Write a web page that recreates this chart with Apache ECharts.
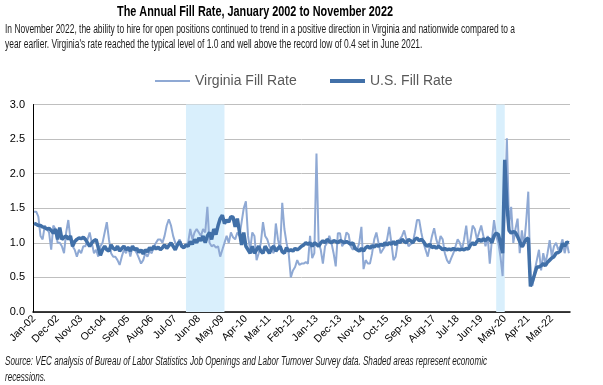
<!DOCTYPE html>
<html>
<head>
<meta charset="utf-8">
<script src="https://cdn.jsdelivr.net/npm/echarts@6/dist/echarts.min.js"></script>
<style>
html,body{margin:0;padding:0;background:#fff;}
#chart{width:603px;height:385px;}
</style>
</head>
<body>
<div id="chart"></div>
<script>
// ---- Data ----
const monthNames = ['Jan','Feb','Mar','Apr','May','Jun','Jul','Aug','Sep','Oct','Nov','Dec'];
const categories = [];
for (let y = 2002; y <= 2022; y++) {
  for (let m = 0; m < 12; m++) {
    if (y === 2022 && m > 10) break;
    categories.push(monthNames[m] + '-' + String(y).slice(2));
  }
}

const virginiaFillRate = [
  1.45,1.45,1.38,1.10,1.05,1.25,1.20,1.15,0.90,1.25,1.20,1.00, // 2002
  1.00,0.95,0.85,1.15,1.33,1.05,0.95,0.90,0.80,0.90,0.85,0.95, // 2003
  0.95,1.05,1.15,1.00,0.85,0.90,0.80,0.95,1.00,1.15,1.30,1.05, // 2004
  0.85,0.80,0.80,0.75,0.68,0.80,0.90,0.85,0.95,0.80,0.95,0.90, // 2005
  0.85,0.78,0.70,0.75,0.85,0.80,0.88,0.85,0.95,1.00,1.05,1.05, // 2006
  1.00,1.10,1.25,1.34,1.25,1.10,1.00,0.95,1.05,0.97,0.93,0.97, // 2007
  1.00,1.20,1.05,1.15,1.20,1.15,1.10,1.20,1.15,1.52,1.00,0.95, // 2008
  0.97,0.93,0.95,0.80,0.90,1.00,1.10,1.00,1.15,1.08,1.05,1.15, // 2009
  1.10,1.30,1.50,1.60,1.10,0.90,1.15,1.10,0.75,0.85,1.00,1.30, // 2010
  1.10,1.05,0.95,0.90,0.85,1.28,1.05,0.90,1.58,1.20,1.00,0.85, // 2011
  0.50,0.60,0.65,0.75,0.68,0.70,0.70,0.72,0.70,1.10,0.78,0.85, // 2012
  2.29,1.00,0.90,0.70,0.95,1.00,1.10,1.00,0.85,0.66,1.14,1.14, // 2013
  0.95,1.00,1.15,1.12,0.95,0.90,0.95,0.90,1.00,1.23,0.62,0.75, // 2014
  0.70,0.70,0.85,1.05,1.15,1.00,0.85,0.90,0.95,1.05,1.23,1.00, // 2015
  0.75,0.80,1.00,1.05,1.10,1.18,1.05,0.95,0.98,1.00,1.15,1.33, // 2016
  1.33,1.15,1.00,0.90,0.80,0.95,1.10,1.21,1.05,0.95,1.10,1.05, // 2017
  0.85,0.75,0.70,0.78,0.85,0.95,1.05,1.00,0.90,1.05,1.25,0.95, // 2018
  1.05,1.25,1.20,1.05,1.15,1.25,1.10,0.95,1.10,0.70,1.05,1.33, // 2019
  1.10,1.00,0.80,0.52,1.40,2.51,1.25,1.52,1.00,1.20,1.35,0.85, // 2020
  1.18,0.95,1.30,1.74,0.50,0.38,0.60,0.75,0.90,0.60,0.85,0.70, // 2021
  0.85,1.04,0.80,0.95,1.00,0.90,0.95,1.05,0.85,1.00,0.85       // 2022
];

const usFillRate = [
  1.28,1.27,1.25,1.25,1.23,1.22,1.20,1.21,1.18,1.14,1.20,1.05, // 2002
  1.22,1.05,1.08,1.10,1.05,1.10,0.95,1.02,1.05,1.07,1.06,1.08, // 2003
  1.05,1.00,0.95,1.00,1.03,1.05,0.93,0.82,0.90,0.95,0.90,0.88, // 2004
  0.97,0.92,0.90,0.95,0.88,0.92,0.95,0.90,0.93,0.88,0.95,0.90, // 2005
  0.92,0.86,0.90,0.84,0.90,0.87,0.93,0.90,0.95,0.91,0.94,0.90, // 2006
  0.93,0.97,0.92,0.96,1.00,0.95,0.90,0.97,1.02,0.95,0.93,0.97, // 2007
  0.95,1.02,0.98,1.05,1.00,1.07,1.03,1.10,1.00,1.10,1.15,1.05, // 2008
  1.20,1.12,1.25,1.35,1.40,1.28,1.33,1.30,1.38,1.37,1.23,1.35, // 2009
  1.16,0.97,1.15,0.95,0.90,0.85,0.95,0.85,0.90,0.95,0.88,0.85, // 2010
  0.95,0.90,0.85,0.92,0.95,0.88,0.92,0.95,0.87,0.85,0.93,0.88, // 2011
  0.90,0.88,0.92,0.90,0.92,0.95,0.97,1.00,0.98,1.00,0.95,1.00, // 2012
  0.98,0.95,1.00,1.03,1.00,1.05,1.02,1.00,1.03,1.02,1.00,1.03, // 2013
  1.02,1.00,1.02,1.00,0.98,1.00,0.92,0.90,0.88,0.92,0.88,0.93, // 2014
  0.95,0.92,0.96,0.94,0.97,0.95,0.98,0.96,1.00,0.97,1.00,0.98, // 2015
  1.02,0.97,1.03,1.00,1.05,1.02,1.00,1.05,1.03,1.00,1.05,1.07, // 2016
  1.03,1.05,1.02,0.97,0.95,0.98,0.93,0.95,0.92,0.95,0.93,0.90, // 2017
  0.92,0.90,0.91,0.90,0.92,0.90,0.91,0.90,0.91,0.90,0.92,0.91, // 2018
  0.97,1.00,0.97,1.02,1.05,1.02,1.06,1.03,1.07,1.05,1.00,1.10, // 2019
  1.14,1.12,1.00,0.85,2.20,1.55,1.18,1.14,1.16,1.15,1.09,1.02, // 2020
  0.94,1.00,1.05,1.07,0.37,0.45,0.55,0.65,0.65,0.67,0.70,0.67, // 2021
  0.72,0.75,0.78,0.80,0.85,0.86,0.88,0.99,0.95,1.01,1.00       // 2022
];

const recessions = [['Dec-07', 'Jun-09'], ['Jan-20', 'May-20']];
const seriesNames = ['Virginia Fill Rate', 'U.S. Fill Rate'];

const titleText = 'The Annual Fill Rate, January 2002 to November 2022';
const subtitleLines = [
  'In November 2022, the ability to hire for open positions continued to trend in a positive direction in Virginia and nationwide compared to a',
  "year earlier. Virginia's rate reached the typical level of 1.0 and well above the record low of 0.4 set in June 2021."
];
const sourceLines = [
  'Source: VEC analysis of Bureau of Labor Statistics Job Openings and Labor Turnover Survey data. Shaded areas represent economic',
  'recessions.'
];

// ---- Text helpers (emulate a condensed face by horizontal scaling) ----
const FONT = '"Liberation Sans", Arial, sans-serif';
const measureCtx = document.createElement('canvas').getContext('2d');
function textWidth(text, font) { measureCtx.font = font; return measureCtx.measureText(text).width; }
const titleFont = 'bold 14px ' + FONT;
const subFont = '12.5px ' + FONT;
const srcFont = 'italic 12px ' + FONT;
const titleScale = 276 / textWidth(titleText, titleFont);
const subScale = 510 / textWidth(subtitleLines[0], subFont);
const srcScale = 482 / textWidth(sourceLines[0], srcFont);

function txt(text, x, y, font, scale, fill) {
  return {type: 'text', x: x, y: y, scaleX: scale, scaleY: 1, originX: 0, originY: 0,
    silent: true, style: {text: text, font: font, fill: fill, textVerticalAlign: 'middle', verticalAlign: 'middle'}};
}

// ---- Chart ----
const chart = echarts.init(document.getElementById('chart'), null, {renderer: 'canvas'});
chart.setOption({
  animation: false,
  backgroundColor: '#ffffff',
  graphic: [
    txt(titleText, 117, 12, titleFont, titleScale, '#000'),
    txt(subtitleLines[0], 5, 29.5, subFont, subScale, '#1a1a1a'),
    txt(subtitleLines[1], 5, 45, subFont, subScale, '#1a1a1a'),
    txt(sourceLines[0], 5, 362, srcFont, srcScale, '#1a1a1a'),
    txt(sourceLines[1], 5, 378, srcFont, srcScale, '#1a1a1a')
  ],
  legend: [
    {
      left: 150, top: 69, icon: 'rect', itemWidth: 35, itemHeight: 2,
      textStyle: {fontFamily: FONT, fontSize: 14, color: '#595959'},
      data: [seriesNames[0]]
    },
    {
      left: 325, top: 69, icon: 'rect', itemWidth: 35, itemHeight: 4,
      textStyle: {fontFamily: FONT, fontSize: 14, color: '#595959'},
      data: [seriesNames[1]]
    }
  ],
  grid: {left: 33, right: 33, top: 104.5, bottom: 73, containLabel: false},
  xAxis: {
    type: 'category',
    data: categories,
    boundaryGap: true,
    axisLine: {lineStyle: {color: '#000', width: 1.5}},
    axisTick: {show: false},
    axisLabel: {interval: 10, rotate: 45, fontFamily: FONT, fontSize: 10.5, color: '#000', margin: 5}
  },
  yAxis: {
    type: 'value',
    min: 0,
    max: 3,
    interval: 0.5,
    axisLine: {show: true, lineStyle: {color: '#000', width: 1}},
    axisTick: {show: false},
    splitLine: {lineStyle: {color: '#bfbfbf', width: 1}},
    axisLabel: {formatter: v => v.toFixed(1), fontFamily: FONT, fontSize: 11, color: '#000', margin: 8}
  },
  series: [
    {
      name: seriesNames[0],
      type: 'line',
      data: virginiaFillRate,
      symbol: 'none',
      lineStyle: {color: '#8fa9d4', width: 2},
      itemStyle: {color: '#8fa9d4'},
      z: 2,
      markArea: {
        silent: true,
        itemStyle: {color: '#d9effc'},
        data: recessions.map(r => [{xAxis: r[0]}, {xAxis: r[1]}])
      }
    },
    {
      name: seriesNames[1],
      type: 'line',
      data: usFillRate,
      symbol: 'none',
      lineStyle: {color: '#4170a8', width: 3.5},
      itemStyle: {color: '#4170a8'},
      z: 3
    }
  ]
});
</script>
</body>
</html>
